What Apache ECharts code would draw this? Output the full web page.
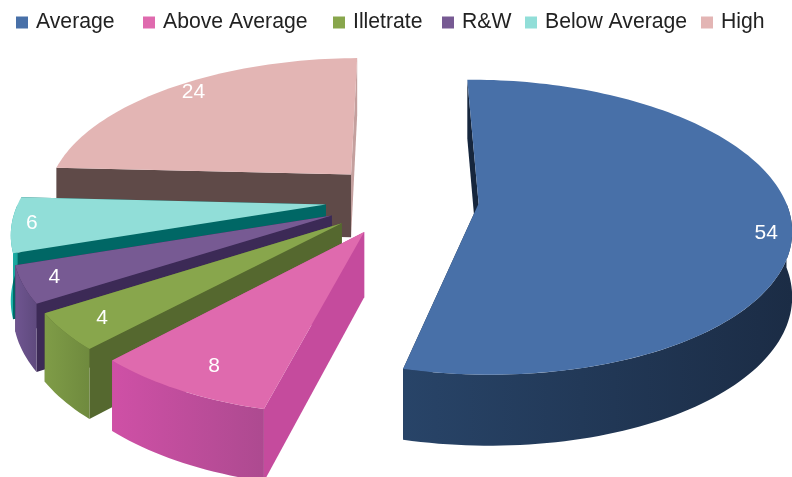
<!DOCTYPE html>
<html>
<head>
<meta charset="utf-8">
<style>html,body{margin:0;padding:0;background:#fff}#chart{width:792px;height:477px}</style>
<script src="https://cdn.jsdelivr.net/npm/echarts@6/dist/echarts.min.js"></script>
</head>
<body>
<div id="chart"></div>
<script>
const categories = ['Average', 'Above Average', 'Illetrate', 'R&W', 'Below Average', 'High'];
const values = [54, 8, 4, 4, 6, 24];

const topColors = ['#4870a8', '#df6aae', '#88a64c', '#775a93', '#91ded8', '#e3b5b4'];
const faceColors = ['#16263d', '#c54b9d', '#55682f', '#3c2a56', '#006765', '#5f4a48'];
const endFaceColors = ['#16263d', '#c54b9d', '#55682f', '#3c2a56', '#006765', '#c4a09e'];
const wallColors = [
  ['#284468', '#1b2c45'],
  ['#cf50a6', '#ad4a90'],
  ['#7f9c47', '#6f8a3e'],
  ['#6f5590', '#5f4a7e'],
  ['#1fb5ac', '#18a098'],
  ['#6b5452', '#5f4a48']
];
const legendLeft = [16, 143, 333, 442, 525, 701];
const drawOrder = [5, 4, 3, 2, 1, 0];
// Where each value label sits on its slice: fraction of the radius, degrees off the mid-line.
const labelRadius = [0.92, 0.86, 0.88, 0.905, 0.937, 0.91];
const labelTurn = [6, -1.1, -0.4, 0.1, -0.1, 1.9];

// Ground-plane perspective used to lay the pie out in 3D.
const view = { cx: 420, cy: 204, rx: 308, h: 899, k: 0.16, depth: 64, depthPow: 0.6 };
// Pie centre on the plane, first-slice angle and the distance each slice is pulled out.
const pie = { u: -0.058, v: -0.031, explode: 0.25, startDeg: -0.7 };

const total = values.reduce((a, b) => a + b, 0);
const starts = [];
values.reduce((acc, v, i) => { starts[i] = acc; return acc + v; }, 0);

function project(u, v, drop) {
  const s = 1 / (1 - view.k * v);
  return [
    view.cx + view.rx * u * s,
    view.cy + view.h * (s - 1) + (drop ? view.depth * Math.pow(s, view.depthPow) : 0)
  ];
}

function sliceGeometry(i) {
  const offset = pie.startDeg * Math.PI / 180;
  const a0 = starts[i] / total * Math.PI * 2 + offset;
  const a1 = (starts[i] + values[i]) / total * Math.PI * 2 + offset;
  const mid = (a0 + a1) / 2;
  const ou = pie.u + pie.explode * Math.sin(mid);
  const ov = pie.v - pie.explode * Math.cos(mid);
  const at = (t, r) => [ou + r * Math.sin(t), ov - r * Math.cos(t)];
  const sweep = (from, to) => {
    const pts = [];
    const n = Math.max(8, Math.ceil((to - from) * 40));
    for (let j = 0; j <= n; j++) pts.push(at(from + (to - from) * j / n, 1));
    return pts;
  };
  // Only the part of the rim that faces the viewer gets a wall.
  const frontFrom = Math.max(a0, Math.PI / 2);
  const frontTo = Math.min(a1, Math.PI * 1.5);
  return {
    ou, ov, mid, at,
    arc: sweep(a0, a1),
    front: frontTo > frontFrom ? sweep(frontFrom, frontTo) : []
  };
}

function gradient(stops) {
  return new echarts.graphic.LinearGradient(0, 0, 1, 0, [
    { offset: 0, color: stops[0] },
    { offset: 1, color: stops[1] }
  ]);
}

function renderSlice(i) {
  const g = sliceGeometry(i);
  const apexTop = project(g.ou, g.ov, false);
  const apexLow = project(g.ou, g.ov, true);
  const arcTop = g.arc.map(p => project(p[0], p[1], false));
  const arcLow = g.arc.map(p => project(p[0], p[1], true));
  const last = arcTop.length - 1;
  const children = [];
  const poly = (points, fill) => children.push({
    type: 'polygon',
    shape: { points },
    style: { fill, stroke: null },
    silent: true
  });
  poly([apexTop, arcTop[last], arcLow[last], apexLow], endFaceColors[i]);
  poly([apexTop, arcTop[0], arcLow[0], apexLow], faceColors[i]);
  if (g.front.length) {
    const wallTop = g.front.map(p => project(p[0], p[1], false));
    const wallLow = g.front.map(p => project(p[0], p[1], true));
    poly(wallTop.concat(wallLow.reverse()), gradient(wallColors[i]));
  }
  poly([apexTop].concat(arcTop), topColors[i]);
  const lp = g.at(g.mid + labelTurn[i] * Math.PI / 180, labelRadius[i]);
  const pos = project(lp[0], lp[1], false);
  children.push({
    type: 'text',
    silent: true,
    style: {
      text: String(values[i]),
      x: pos[0],
      y: pos[1],
      fill: '#ffffff',
      font: '21px "Liberation Sans", Arial, sans-serif',
      align: 'center',
      verticalAlign: 'middle'
    }
  });
  return { type: 'group', children };
}

const chart = echarts.init(document.getElementById('chart'), null, { renderer: 'canvas' });
chart.setOption({
  animation: false,
  backgroundColor: '#ffffff',
  legend: categories.map((name, i) => ({
    data: [name],
    left: legendLeft[i],
    top: 12,
    padding: 0,
    icon: 'rect',
    itemWidth: 12,
    itemHeight: 12,
    selectedMode: false,
    textStyle: {
      color: '#222222',
      fontSize: 21.2,
      fontFamily: '"Liberation Sans", Arial, sans-serif',
      padding: [0, 0, 0, 3]
    }
  })),
  series: drawOrder.map(i => ({
    type: 'custom',
    name: categories[i],
    coordinateSystem: 'none',
    silent: true,
    itemStyle: { color: topColors[i] },
    data: [values[i]],
    renderItem: () => renderSlice(i)
  }))
});
</script>
</body>
</html>
